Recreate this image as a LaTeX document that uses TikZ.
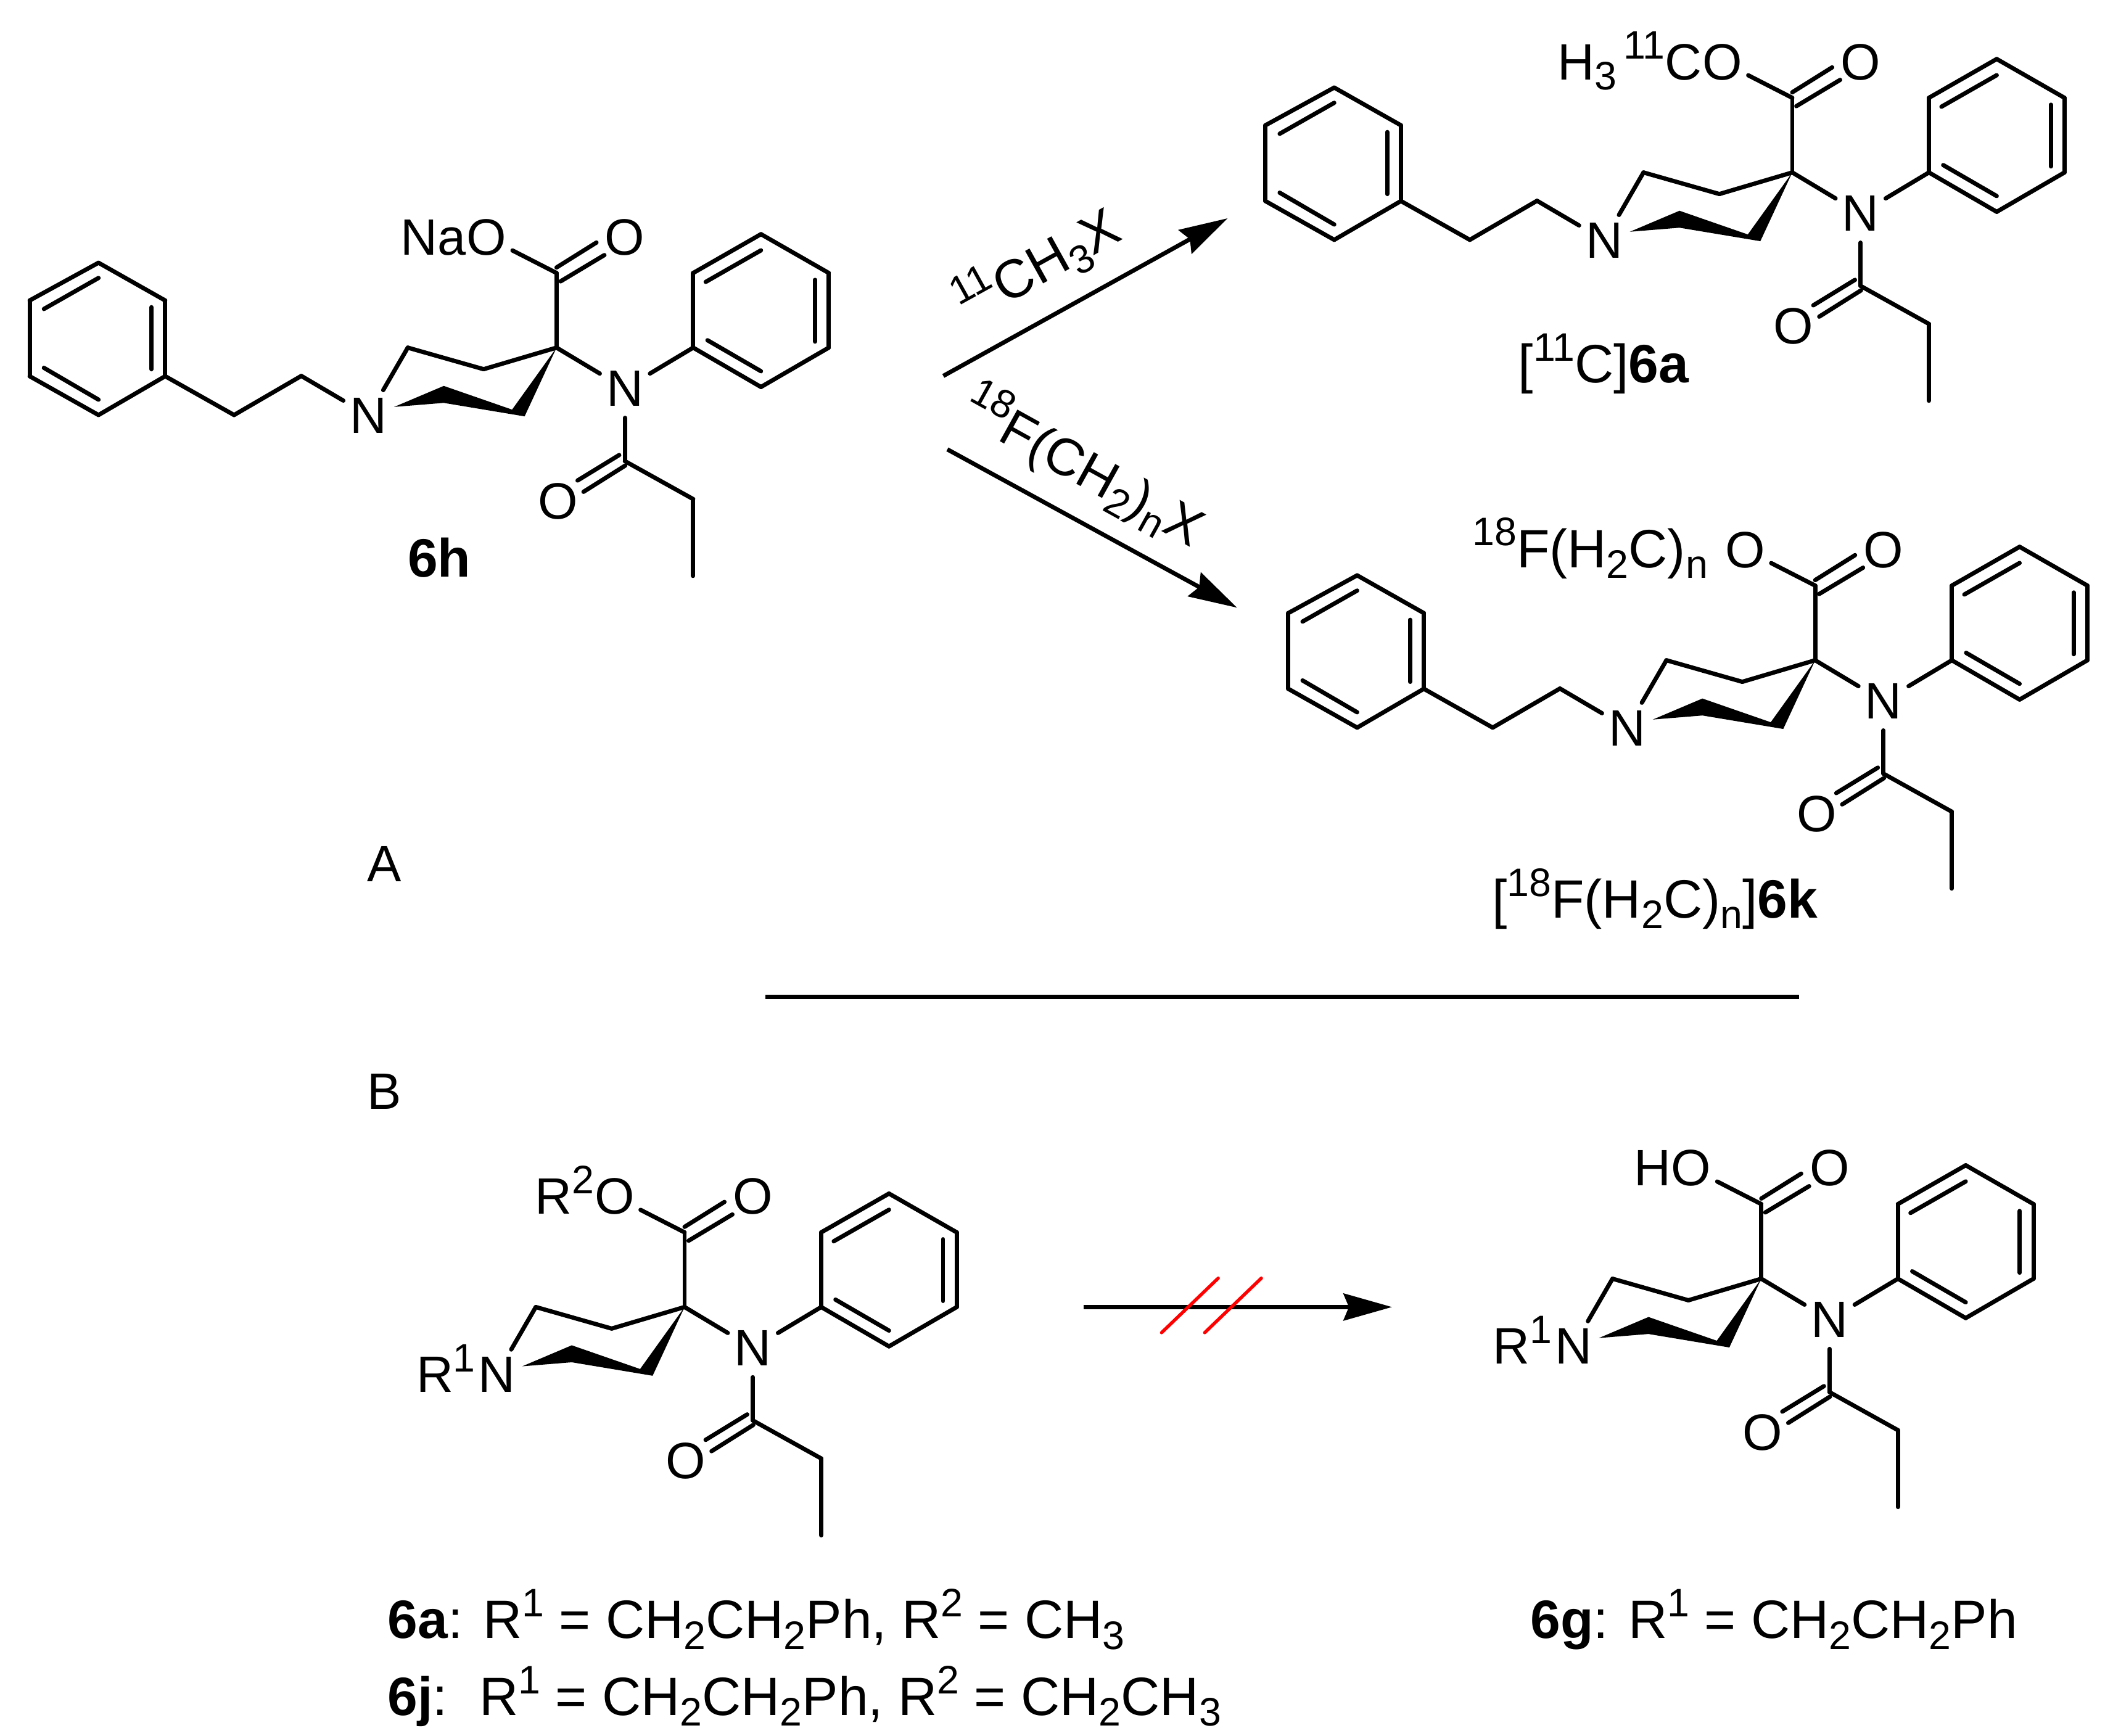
\documentclass[tikz,border=0pt]{standalone}
\usepackage{fontspec}
\usepackage{tikz}
\usetikzlibrary{arrows.meta}
\setmainfont{Liberation Sans}

\newcommand{\sups}[1]{\raisebox{.4em}{\fontsize{8.4}{9}\selectfont #1}}
\newcommand{\subs}[1]{\raisebox{-.2em}{\fontsize{8.4}{9}\selectfont #1}}
\newcommand{\capfont}{\fontsize{11.4}{14}\selectfont}

\tikzset{
	atom/.style={circle,inner sep=0pt,minimum size=4.2mm},
	tag/.style={inner sep=0pt,font=\capfont},
	bond/.style={line width=.9pt,line cap=round,line join=round},
	rxn/.style={line width=.9pt,-{Stealth[black,length=3.6mm,width=2mm,inset=.4mm]}},
	cross/.style={draw=red,line width=.7pt,line cap=round}
}

% piperidine core with the ester and the anilide, in the place it has in 6h
\newcommand{\fentcore}[5]{
	\begin{scope}[shift={(#2,#3)},name prefix=#1-]
		\begin{scope}[every node/.style={atom}]
			\node (n1) at (273.5,308.3) {N};
			\node (n2) at (463.7,288.4) {N};
			\node (o1) at (361,176) {O};
			\node (o2) at (463.7,176) {O};
			\node (o3) at (414,372) {O};
		\end{scope}
		\node[anchor=base east,inner sep=0pt] (est) at ([xshift=-1.45mm]o1.base) {#4};
		\coordinate (c1) at (413,258);
		\coordinate (c2) at (358.9,274);
		\coordinate (c3) at (302.6,258);
		\coordinate (c4) at (413,202.6);
		\coordinate (c5) at (463.7,342.2);
		\coordinate (c6) at (514.4,370.4);
		\coordinate (c7) at (514.4,427.4);
		\coordinate (p1) at (514.4,258);
		\coordinate (p2) at (514.4,202.6);
		\coordinate (p3) at (564.7,173.8);
		\coordinate (p4) at (615,202.6);
		\coordinate (p5) at (615,258);
		\coordinate (p6) at (564.7,287.2);
		\coordinate (q1) at (523.7,209.2);
		\coordinate (q2) at (564.7,185.8);
		\coordinate (q3) at (604.8,207.7);
		\coordinate (q4) at (604.8,253.5);
		\coordinate (q5) at (525,252.5);
		\coordinate (q6) at (564.7,275.5);
		\coordinate (d1) at (413,198.5);
		\coordinate (d2) at (442.6,180);
		\coordinate (d3) at (416,208.8);
		\coordinate (d4) at (448.5,189.3);
		\coordinate (d5) at (459.5,337.7);
		\coordinate (d6) at (428.6,356.6);
		\coordinate (d7) at (464,345.5);
		\coordinate (d8) at (433,365);
		\coordinate (w1) at (292.5,302);
		\coordinate (w2) at (329.3,286.4);
		\coordinate (w3) at (380,304);
		\coordinate (w4) at (389.3,309);
		\coordinate (w5) at (329.3,299);

		\fill (w1) -- (w2) -- (w3) -- (c1) -- (w4) -- (w5) -- cycle;

		\begin{scope}[every edge/.style={draw=black,bond}]
			\path (n1) edge (c3);
			\path (c3) edge (c2);
			\path (c2) edge (c1);
			\path (c1) edge (c4);
			\path (c4) edge (o1);
			\path (d1) edge (d2);
			\path (d3) edge (d4);
			\path (c1) edge (n2);
			\path (n2) edge (p1);
			\path (n2) edge (c5);
			\path (d5) edge (d6);
			\path (d7) edge (d8);
			\path (c5) edge (c6);
			\path (c6) edge (c7);
			\path (p1) edge (p2);
			\path (p2) edge (p3);
			\path (p3) edge (p4);
			\path (p4) edge (p5);
			\path (p5) edge (p6);
			\path (p6) edge (p1);
			\path (q1) edge (q2);
			\path (q3) edge (q4);
			\path (q5) edge (q6);
		\end{scope}
		#5
	\end{scope}
}

% phenethyl arm on the ring nitrogen
\newcommand{\phenethyl}{
	\coordinate (a1) at (223.6,279);
	\coordinate (a2) at (173.7,308);
	\coordinate (b1) at (122.6,279.2);
	\coordinate (b2) at (122.6,223);
	\coordinate (b3) at (73.1,195);
	\coordinate (b4) at (22,223);
	\coordinate (b5) at (22,279.2);
	\coordinate (b6) at (73.1,308);
	\coordinate (e1) at (112.4,228);
	\coordinate (e2) at (112.4,274);
	\coordinate (e3) at (32.6,229.3);
	\coordinate (e4) at (73.1,206.3);
	\coordinate (e5) at (32.6,273);
	\coordinate (e6) at (73.1,296.6);
	\begin{scope}[every edge/.style={draw=black,bond}]
		\path (n1) edge (a1);
		\path (a1) edge (a2);
		\path (a2) edge (b1);
		\path (b1) edge (b2);
		\path (b2) edge (b3);
		\path (b3) edge (b4);
		\path (b4) edge (b5);
		\path (b5) edge (b6);
		\path (b6) edge (b1);
		\path (e1) edge (e2);
		\path (e3) edge (e4);
		\path (e5) edge (e6);
	\end{scope}
}

% R1 on the ring nitrogen
\newcommand{\ronegroup}{
	\node[anchor=base east,inner sep=0pt] (r1) at ([xshift=-1.5mm]n1.base) {R\sups{1}};
}

\begin{document}
\begin{tikzpicture}[x=.1mm,y=-.1mm,font=\fontsize{10.8}{13}\selectfont]
		\useasboundingbox (0,0) rectangle (1568,1288.3);

		\fentcore{h}{0}{0}{Na}{\phenethyl}
		\fentcore{a}{917}{-130}{H\subs{3}\hspace{.5mm}\sups{11}C}{\phenethyl}
		\fentcore{k}{934}{232}{\capfont\sups{18}F(H\subs{2}C)\subs{n}\kern1.25mm}{\phenethyl}
		\fentcore{j}{95}{712}{R\sups{2}}{\ronegroup}
		\fentcore{g}{894}{691}{H}{\ronegroup}

		\node[tag] (lh) at (326,414) {\textbf{6h}};
		\node[tag] (la) at (1190,270) {[\sups{11}C]\textbf{6a}};
		\node[tag] (lk) at (1228,667) {[\sups{18}F(H\subs{2}C)\subs{n}]\textbf{6k}};
		\node (pa) at (285,641) {A};
		\node (pb) at (285,810) {B};
		\node[tag,anchor=base west] (l1) at (287,1216) {\textbf{6a}: R\sups{1} = CH\subs{2}CH\subs{2}Ph, R\sups{2} = CH\subs{3}};
		\node[tag,anchor=base west] (l2) at (287,1273) {\textbf{6j}:\hspace{2.35mm}R\sups{1} = CH\subs{2}CH\subs{2}Ph, R\sups{2} = CH\subs{2}CH\subs{3}};
		\node[tag,anchor=base west] (l3) at (1135,1216) {\textbf{6g}: R\sups{1} = CH\subs{2}CH\subs{2}Ph};

		\coordinate (s1) at (700,279);
		\coordinate (t1) at (911,162);
		\coordinate (s2) at (703,333.5);
		\coordinate (t2) at (918,451);
		\coordinate (s3) at (804,970);
		\coordinate (t3) at (1033,970);
		\coordinate (u1) at (568,740);
		\coordinate (u2) at (1335,740);
		\coordinate (x1) at (862,989);
		\coordinate (x2) at (904,948.6);
		\coordinate (x3) at (894,989);
		\coordinate (x4) at (936,948.6);

		\draw[rxn] (s1) -- (t1);
		\draw[rxn] (s2) -- (t2);
		\draw[rxn] (s3) -- (t3);
		\draw[line width=.9pt] (u1) -- (u2);
		\draw[cross] (x1) -- (x2);
		\draw[cross] (x3) -- (x4);

		\node[tag,rotate=29] (r1) at (770,197) {\sups{11}CH\subs{3}X};
		\node[tag,font=\fontsize{11.1}{14}\selectfont,rotate=-29] (r2) at (804,346) {\sups{18}F(CH\subs{2})\subs{n}X};
\end{tikzpicture}
\end{document}
